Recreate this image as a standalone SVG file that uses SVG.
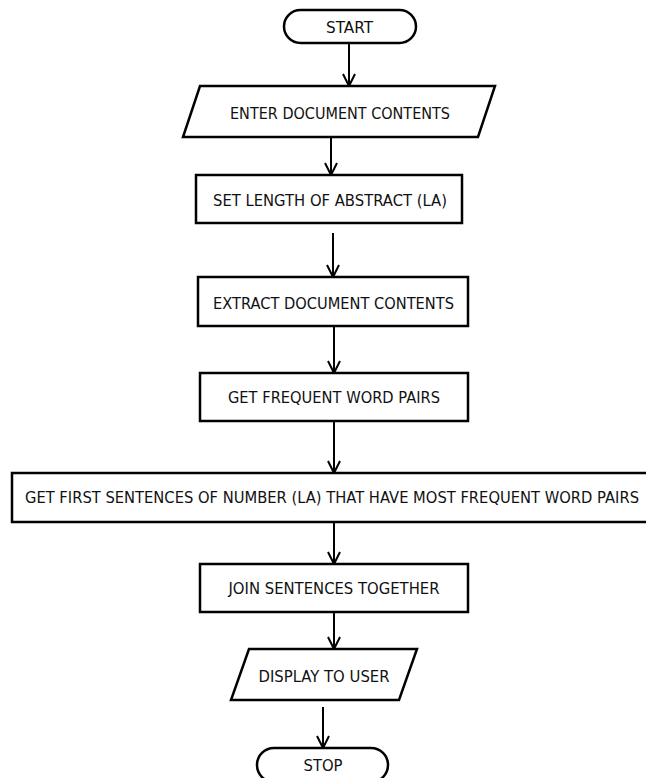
<svg xmlns="http://www.w3.org/2000/svg" width="646" height="778" viewBox="0 0 646 778">
<style>
.s{fill:#fff;stroke:#000;stroke-width:2.5}
.t{font-family:"DejaVu Sans","Liberation Sans",sans-serif;font-size:15px;fill:#111;text-anchor:middle}
.c{stroke:#000;stroke-width:2;fill:none}
</style>
<defs>
<marker id="ah" markerUnits="userSpaceOnUse" markerWidth="16" markerHeight="16" viewBox="0 0 16 16" refX="13" refY="8" orient="auto">
<path d="M1,2 L13,8 L1,14" fill="none" stroke="#000" stroke-width="2"/>
</marker>
</defs>
<rect width="646" height="778" fill="#fff"/>
<g id="connectors">
<line class="c" x1="349" y1="43" x2="349" y2="86" marker-end="url(#ah)"/>
<line class="c" x1="331" y1="137" x2="331" y2="175" marker-end="url(#ah)"/>
<line class="c" x1="333" y1="233" x2="333" y2="277" marker-end="url(#ah)"/>
<line class="c" x1="334" y1="326" x2="334" y2="373" marker-end="url(#ah)"/>
<line class="c" x1="334" y1="421" x2="334" y2="473" marker-end="url(#ah)"/>
<line class="c" x1="334" y1="522" x2="334" y2="564" marker-end="url(#ah)"/>
<line class="c" x1="334" y1="612" x2="334" y2="649" marker-end="url(#ah)"/>
<line class="c" x1="323" y1="707" x2="323" y2="748" marker-end="url(#ah)"/>
</g>
<g id="start">
<rect class="s" x="284" y="10" width="132" height="33" rx="16.5"/>
<text class="t" x="349.5" y="33" textLength="47" lengthAdjust="spacingAndGlyphs">START</text>
</g>
<g id="enter">
<polygon class="s" points="200,86 495,86 478,137 183,137"/>
<text class="t" x="340" y="119" textLength="220" lengthAdjust="spacingAndGlyphs">ENTER DOCUMENT CONTENTS</text>
</g>
<g id="setlength">
<rect class="s" x="196" y="175" width="266" height="48"/>
<text class="t" x="330" y="206" textLength="234" lengthAdjust="spacingAndGlyphs">SET LENGTH OF ABSTRACT (LA)</text>
</g>
<g id="extract">
<rect class="s" x="198" y="277" width="270" height="49"/>
<text class="t" x="333.5" y="309" textLength="241" lengthAdjust="spacingAndGlyphs">EXTRACT DOCUMENT CONTENTS</text>
</g>
<g id="getpairs">
<rect class="s" x="200" y="373" width="268" height="48"/>
<text class="t" x="334" y="403" textLength="212" lengthAdjust="spacingAndGlyphs">GET FREQUENT WORD PAIRS</text>
</g>
<g id="getfirst">
<rect class="s" x="12" y="473" width="660" height="49"/>
<text class="t" x="332" y="503" textLength="614" lengthAdjust="spacingAndGlyphs">GET FIRST SENTENCES OF NUMBER (LA) THAT HAVE MOST FREQUENT WORD PAIRS</text>
</g>
<g id="join">
<rect class="s" x="200" y="564" width="268" height="48"/>
<text class="t" x="334" y="594" textLength="211" lengthAdjust="spacingAndGlyphs">JOIN SENTENCES TOGETHER</text>
</g>
<g id="display">
<polygon class="s" points="249,649 417,649 399,700 231,700"/>
<text class="t" x="324" y="682" textLength="131" lengthAdjust="spacingAndGlyphs">DISPLAY TO USER</text>
</g>
<g id="stop">
<rect class="s" x="257" y="748" width="131" height="34" rx="17"/>
<text class="t" x="323" y="771" textLength="39" lengthAdjust="spacingAndGlyphs">STOP</text>
</g>
</svg>
